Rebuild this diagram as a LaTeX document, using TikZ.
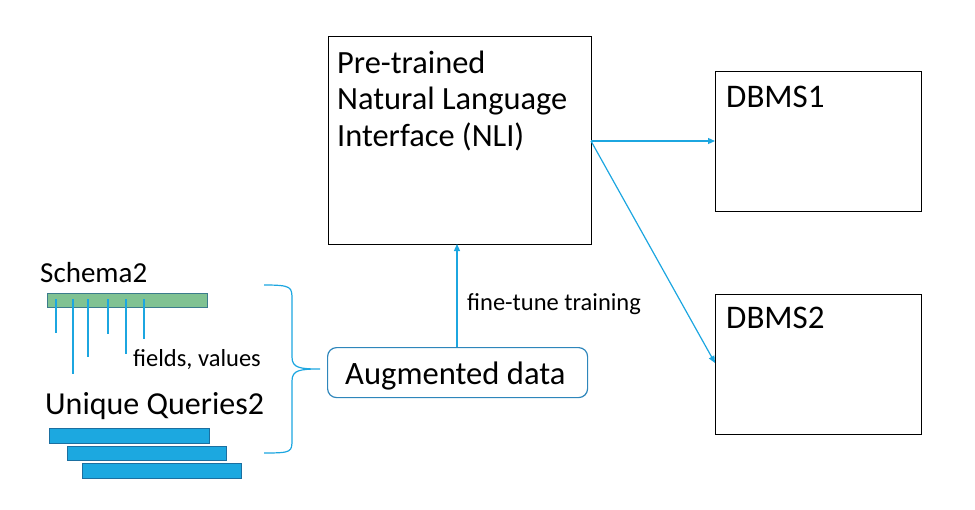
\documentclass[tikz,border=0pt]{standalone}
\usepackage{fontspec}
\setmainfont{Carlito}
\usetikzlibrary{arrows.meta,decorations.pathreplacing}
\definecolor{lineblue}{HTML}{1CA6E0}
\definecolor{barblue}{HTML}{1CA8E0}
\definecolor{barborder}{HTML}{1B6FA0}
\definecolor{greenfill}{HTML}{80C292}
\definecolor{greenborder}{HTML}{3C7C8C}
\definecolor{boxblue}{HTML}{2E86BB}
\tikzset{
  plainbox/.style={draw=black, line width=1.2pt, inner sep=0pt},
  txt/.style={inner sep=0pt, anchor=base west},
  conn/.style={draw=lineblue, line width=1.2pt, -{Triangle[length=7pt,width=6pt]}},
  tick/.style={draw=lineblue, line width=1.2pt},
  qbar/.style={draw=barborder, fill=barblue, line width=0.8pt},
}
\begin{document}
\begin{tikzpicture}[x=1pt,y=-1pt]
\useasboundingbox (0,0) rectangle (975,509);
% NLI box
\node[plainbox, minimum width=263pt, minimum height=208pt, anchor=north west] (nli) at (328,36) {};
\node[txt, font=\fontsize{32.4}{36}\selectfont] (t1) at (337,73) {Pre-trained};
\node[txt, font=\fontsize{32.4}{36}\selectfont] (t2) at (337,109) {Natural Language};
\node[txt, font=\fontsize{32.4}{36}\selectfont] (t3) at (337,146) {Interface (NLI)};
% DBMS boxes
\node[plainbox, minimum width=206pt, minimum height=140pt, anchor=north west] (d1) at (715,71) {};
\node[txt, font=\fontsize{33}{36}\selectfont] (d1t) at (726,107) {DBMS1};
\node[plainbox, minimum width=206pt, minimum height=140pt, anchor=north west] (d2) at (715,294) {};
\node[txt, font=\fontsize{33}{36}\selectfont] (d2t) at (726,328) {DBMS2};
\coordinate (src) at (591,141);
\coordinate (dst1) at (715,141);
\coordinate (dst2) at (715,363);
\draw[conn] (src) -- (dst1);
\draw[conn] (src) -- (dst2);
% Augmented data
\node[draw=boxblue, line width=1.2pt, rounded corners=9pt, minimum width=260pt, minimum height=50pt, anchor=north west] (aug) at (327,347) {};
\node[txt, font=\fontsize{32.6}{36}\selectfont] (augt) at (345,384) {Augmented data};
\coordinate (augtop) at (457,347);
\coordinate (nlibot) at (457,244);
\draw[conn] (augtop) -- (nlibot);
\node[txt, font=\fontsize{24.5}{28}\selectfont] (ft) at (467,310) {fine-tune training};
% Brace
\draw[draw=lineblue, line width=1.2pt] (264,285) .. controls (292,285) and (292,287) .. (292,300)
  -- (292,357) .. controls (292,368) and (300,369) .. (320,369)
  .. controls (300,369) and (292,370) .. (292,381)
  -- (292,439) .. controls (292,452) and (292,453) .. (264,453);
% Schema
\node[txt, font=\fontsize{29}{32}\selectfont] (sch) at (40,282) {Schema2};
\node[draw=greenborder, fill=greenfill, line width=0.8pt, minimum width=160pt, minimum height=14pt, inner sep=0pt, anchor=north west] (gbar) at (47,293) {};
\foreach \xx/\yy in {56/333, 73/374, 88/357, 108/334, 126/354, 144/339} {
  \draw[tick] (\xx,299) -- (\xx,\yy);
}
\node[txt, font=\fontsize{24.5}{28}\selectfont] (fv) at (133,366) {fields, values};
\node[txt, font=\fontsize{32}{36}\selectfont] (uq) at (45,414) {Unique Queries2};
\node[qbar, minimum width=160pt, minimum height=15pt, inner sep=0pt, anchor=north west] (q1) at (49,428) {};
\node[qbar, minimum width=159pt, minimum height=14pt, inner sep=0pt, anchor=north west] (q2) at (67,446) {};
\node[qbar, minimum width=159pt, minimum height=15pt, inner sep=0pt, anchor=north west] (q3) at (82,463) {};
\end{tikzpicture}
\end{document}
